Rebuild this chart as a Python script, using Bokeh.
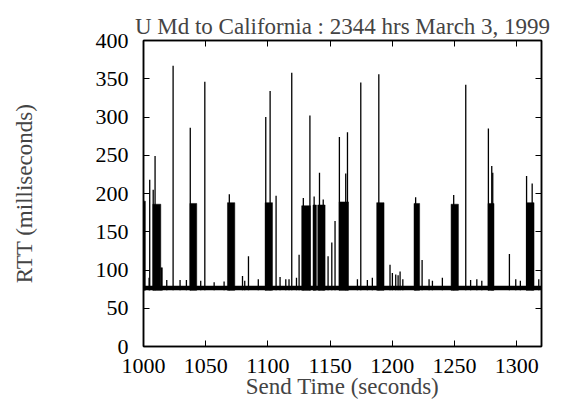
from bokeh.plotting import figure
from bokeh.models import LinearAxis, FixedTicker, Range1d, CustomJSTickFormatter
from bokeh.embed import file_html
from bokeh.resources import INLINE

# ---- data ----
x_ticks = [1000, 1050, 1100, 1150, 1200, 1250, 1300]
y_ticks = [0, 50, 100, 150, 200, 250, 300, 350, 400]

# baseline band of RTT (ms)
base_t = [1000, 1320]
base_lo = [73.5, 73.5]
base_hi = [79.5, 79.5]

# dense bursts of high-RTT packets (start s, end s, level ms)
burst_start = [999.5, 1007.5, 1013.9, 1037.3, 1067.5, 1097.8, 1127.2, 1136.3, 1140.1,
               1157.3, 1187.5, 1217.5, 1247.3, 1277.0, 1307.9]
burst_end = [1001.5, 1013.9, 1015.2, 1042.8, 1073.4, 1103.7, 1134.2, 1139.0, 1146.0,
             1164.8, 1193.4, 1222.0, 1253.2, 1281.8, 1314.0]
burst_top = [190, 186, 103, 187, 188, 188, 184, 185, 185,
             189, 188, 187, 186, 187, 188]

# isolated spikes (send time s, RTT ms)
spike_t = [1005.0, 1007.8, 1009.3, 1023.8, 1037.6, 1049.3, 1069.0, 1084.4, 1098.3,
           1101.8, 1106.6, 1119.2, 1125.1, 1128.5, 1133.8, 1137.2, 1141.5, 1144.5,
           1148.4, 1151.4, 1154.0, 1157.5, 1162.6, 1164.0, 1174.7, 1189.2, 1198.2,
           1218.8, 1224.0, 1249.4, 1259.1, 1277.3, 1280.0, 1280.8, 1294.2, 1308.0,
           1312.5]
spike_v = [218, 205, 249, 367, 286, 346, 199, 118, 300,
           334, 197, 358, 120, 194, 302, 196, 227, 192,
           118, 136, 164, 274, 226, 280, 345, 356, 107,
           195, 113, 198, 342, 285, 236, 227, 121, 223,
           213]

# small bumps on the baseline (send time s, RTT ms)
bump_t = [1004.5, 1018.7, 1029.4, 1034.5, 1046.0, 1056.8, 1064.8, 1079.6, 1081.4,
          1092.3, 1109.8, 1114.4, 1117.0, 1123.0, 1172.0, 1180.0, 1184.0, 1200.1,
          1202.8, 1204.7, 1206.3, 1208.5, 1229.6, 1232.3, 1240.3, 1263.0, 1268.0,
          1272.0, 1299.3, 1303.0, 1317.8]
bump_v = [90, 87, 87, 87, 86, 84, 85, 92, 86,
          88, 91, 88, 88, 90, 88, 87, 90, 96,
          94, 93, 98, 88, 88, 86, 90, 87, 88,
          86, 88, 86, 88]

FONT = "Liberation Serif"

p = figure(width=565, height=411,
           x_range=Range1d(1000, 1320), y_range=Range1d(0, 400),
           output_backend="svg", toolbar_location=None,
           min_border_left=143, min_border_right=24,
           min_border_top=40, min_border_bottom=65,
           background_fill_color="white", border_fill_color="white")
p.grid.visible = False
p.outline_line_color = "black"
p.outline_line_width = 1.5

p.title.text = "U Md to California : 2344 hrs March 3, 1999"
p.title.align = "center"
p.title.text_font = FONT
p.title.text_font_size = "23px"
p.title.text_font_style = "normal"
p.title.standoff = 4

# data
p.varea(x=base_t, y1=base_lo, y2=base_hi, fill_color="black")
p.quad(left=burst_start, right=burst_end, bottom=[base_lo[0]] * len(burst_start),
       top=burst_top, fill_color="black", line_color="black", line_width=0.5)
p.segment(x0=spike_t, y0=[base_lo[0]] * len(spike_t), x1=spike_t, y1=spike_v,
          line_color="black", line_width=1.3)
p.segment(x0=bump_t, y0=[base_lo[0]] * len(bump_t), x1=bump_t, y1=bump_v,
          line_color="black", line_width=1.3)

def style(ax, labels=True):
    ax.axis_line_color = "black"
    ax.axis_line_width = 1.5
    ax.major_tick_in = 6
    ax.major_tick_out = 0
    ax.major_tick_line_color = "black"
    ax.minor_tick_line_color = None
    ax.major_label_text_font = FONT
    ax.major_label_text_color = "black"
    ax.major_label_text_font_size = "22px"
    if not labels:
        ax.formatter = CustomJSTickFormatter(code="return '';")
        ax.major_label_standoff = 0

xa = p.xaxis[0]
xa.ticker = FixedTicker(ticks=x_ticks)
style(xa)
xa.major_label_standoff = 12
xa.axis_label = "Send Time (seconds)"
xa.axis_label_text_font = FONT
xa.axis_label_text_font_size = "23px"
xa.axis_label_text_font_style = "normal"
xa.axis_label_standoff = -2

ya = p.yaxis[0]
ya.ticker = FixedTicker(ticks=y_ticks)
style(ya)
ya.major_label_standoff = 15
ya.axis_label = "RTT (milliseconds)"
ya.axis_label_text_font = FONT
ya.axis_label_text_font_size = "23px"
ya.axis_label_text_font_style = "normal"
ya.axis_label_standoff = 56

ra = LinearAxis(ticker=FixedTicker(ticks=y_ticks))
style(ra, labels=False)
p.add_layout(ra, "right")

ta = LinearAxis(ticker=FixedTicker(ticks=x_ticks))
style(ta, labels=False)
p.add_layout(ta, "above")

open("out.html", "w").write(file_html(p, INLINE))
